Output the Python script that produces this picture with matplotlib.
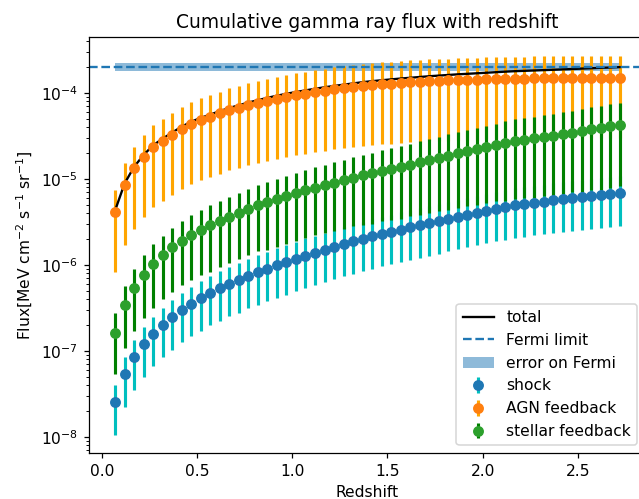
import numpy as np
import matplotlib
matplotlib.use("Agg")
import matplotlib.pyplot as plt

# Redshift bins
redshift = [0.07, 0.12, 0.17, 0.22, 0.27, 0.32, 0.37, 0.42, 0.47, 0.52,
            0.57, 0.62, 0.67, 0.72, 0.77, 0.82, 0.87, 0.92, 0.97, 1.02,
            1.07, 1.12, 1.17, 1.22, 1.27, 1.32, 1.37, 1.42, 1.47, 1.52,
            1.57, 1.62, 1.67, 1.72, 1.77, 1.82, 1.87, 1.92, 1.97, 2.02,
            2.07, 2.12, 2.17, 2.22, 2.27, 2.32, 2.37, 2.42, 2.47, 2.52,
            2.57, 2.62, 2.67, 2.72]

# Cumulative flux per channel [MeV cm^-2 s^-1 sr^-1]
shock = [2.52e-8, 5.35e-8, 8.4e-8, 1.2e-7, 1.58e-7, 2.01e-7, 2.47e-7, 3.0e-7, 3.55e-7, 4.12e-7,
         4.75e-7, 5.35e-7, 6.0e-7, 6.65e-7, 7.5e-7, 8.25e-7, 9.05e-7, 9.9e-7, 1.08e-6, 1.18e-6,
         1.29e-6, 1.39e-6, 1.51e-6, 1.63e-6, 1.76e-6, 1.89e-6, 2.03e-6, 2.16e-6, 2.3e-6, 2.44e-6,
         2.59e-6, 2.75e-6, 2.91e-6, 3.07e-6, 3.24e-6, 3.44e-6, 3.64e-6, 3.84e-6, 4.05e-6, 4.27e-6,
         4.48e-6, 4.7e-6, 4.93e-6, 5.1e-6, 5.28e-6, 5.46e-6, 5.64e-6, 5.81e-6, 5.98e-6, 6.16e-6,
         6.33e-6, 6.5e-6, 6.65e-6, 6.81e-6]

agn = [4.12e-6, 8.5e-6, 1.33e-5, 1.82e-5, 2.36e-5, 2.8e-5, 3.3e-5, 3.85e-5, 4.4e-5, 4.85e-5,
       5.3e-5, 5.8e-5, 6.3e-5, 6.75e-5, 7.25e-5, 7.7e-5, 8.2e-5, 8.65e-5, 9.1e-5, 9.5e-5,
       9.9e-5, 1.03e-4, 1.07e-4, 1.105e-4, 1.14e-4, 1.175e-4, 1.21e-4, 1.24e-4, 1.265e-4, 1.29e-4,
       1.315e-4, 1.335e-4, 1.355e-4, 1.375e-4, 1.39e-4, 1.405e-4, 1.42e-4, 1.43e-4, 1.44e-4, 1.45e-4,
       1.46e-4, 1.47e-4, 1.475e-4, 1.48e-4, 1.485e-4, 1.49e-4, 1.495e-4, 1.5e-4, 1.5e-4, 1.505e-4,
       1.505e-4, 1.51e-4, 1.51e-4, 1.51e-4]

stellar = [1.64e-7, 3.4e-7, 5.4e-7, 7.7e-7, 1.03e-6, 1.30e-6, 1.60e-6, 1.92e-6, 2.22e-6, 2.58e-6,
           2.9e-6, 3.25e-6, 3.65e-6, 4.05e-6, 4.5e-6, 4.95e-6, 5.35e-6, 5.8e-6, 6.3e-6, 6.85e-6,
           7.4e-6, 7.95e-6, 8.5e-6, 9.1e-6, 9.7e-6, 1.04e-5, 1.11e-5, 1.17e-5, 1.24e-5, 1.31e-5,
           1.38e-5, 1.47e-5, 1.57e-5, 1.67e-5, 1.77e-5, 1.88e-5, 1.99e-5, 2.1e-5, 2.22e-5, 2.35e-5,
           2.48e-5, 2.62e-5, 2.77e-5, 2.87e-5, 2.97e-5, 3.08e-5, 3.18e-5, 3.33e-5, 3.48e-5, 3.63e-5,
           3.8e-5, 3.95e-5, 4.1e-5, 4.3e-5]

# Uncertainties
shock_frac_err = 0.58
agn_frac_err = 0.8
stellar_err = [1.10e-7, 2.31e-7, 3.67e-7, 5.31e-7, 7.11e-7, 8.97e-7, 1.12e-6, 1.34e-6, 1.55e-6, 1.81e-6,
               2.06e-6, 2.31e-6, 2.59e-6, 2.88e-6, 3.20e-6, 3.51e-6, 3.85e-6, 4.18e-6, 4.54e-6, 4.93e-6,
               5.33e-6, 5.72e-6, 6.12e-6, 6.60e-6, 7.08e-6, 7.59e-6, 8.16e-6, 8.66e-6, 9.18e-6, 9.76e-6,
               1.035e-5, 1.10e-5, 1.185e-5, 1.27e-5, 1.345e-5, 1.44e-5, 1.53e-5, 1.62e-5, 1.72e-5, 1.83e-5,
               1.93e-5, 2.06e-5, 2.19e-5, 2.27e-5, 2.36e-5, 2.45e-5, 2.54e-5, 2.66e-5, 2.78e-5, 2.92e-5,
               3.06e-5, 3.20e-5, 3.32e-5, 3.48e-5]

# Fermi IGRB limit
fermi_limit = 2.03e-4
fermi_err = 0.21e-4

z = np.array(redshift)
shock_a = np.array(shock)
agn_a = np.array(agn)
stellar_a = np.array(stellar)
total = shock_a + agn_a + stellar_a

dpi = 112
fig = plt.figure(figsize=(639 / dpi, 499 / dpi), dpi=dpi)
ax = fig.add_axes([89 / 639, 46 / 499, 556 / 639, 416 / 499])

ax.errorbar(z, shock_a, yerr=shock_frac_err * shock_a, fmt='o', color='C0',
            ecolor='c', elinewidth=2, label='shock')
ax.errorbar(z, agn_a, yerr=agn_frac_err * agn_a, fmt='o', color='C1',
            ecolor='orange', elinewidth=2, label='AGN feedback')
ax.errorbar(z, stellar_a, yerr=np.array(stellar_err), fmt='o', color='C2',
            ecolor='g', elinewidth=2, label='stellar feedback')

ax.plot(z, total, 'k-', label='total')
ax.axhline(fermi_limit, color='C0', ls='--', label='Fermi limit')
ax.fill_between(z, fermi_limit - fermi_err, fermi_limit + fermi_err,
                color='C0', alpha=0.5, lw=0, label='error on Fermi')

ax.set_yscale('log')
ax.set_xlim(-0.067, 2.853)
ax.set_ylim(6.5e-9, 4.5e-4)
ax.set_xticks([0.0, 0.5, 1.0, 1.5, 2.0, 2.5])
ax.set_title('Cumulative gamma ray flux with redshift')
ax.set_xlabel('Redshift')
ax.set_ylabel(r'Flux[MeV cm$^{-2}$ s$^{-1}$ sr$^{-1}$]')
ax.legend(loc='lower right')

fig.savefig('out.png', dpi=dpi)
